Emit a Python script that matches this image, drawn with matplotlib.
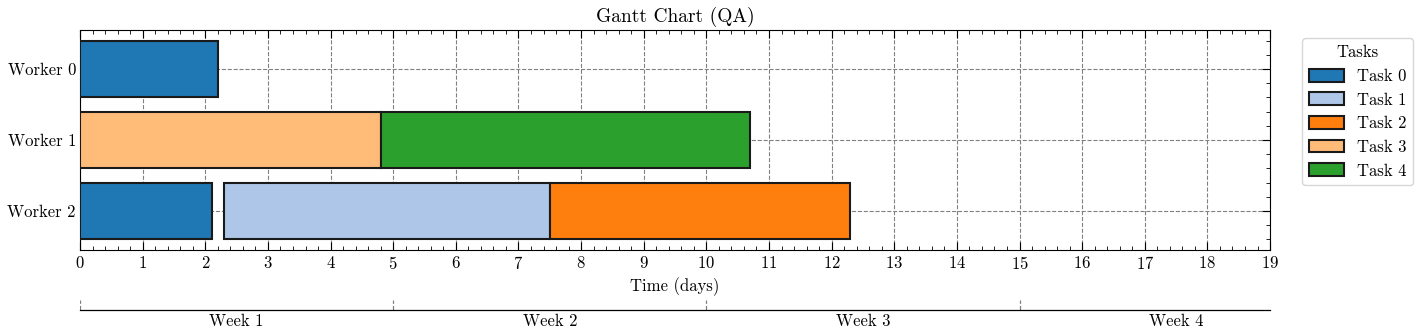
import numpy as np
import matplotlib.pyplot as plt
from matplotlib.patches import Patch

plt.rcParams['font.family'] = ['cmr10', 'DejaVu Serif']
plt.rcParams['mathtext.fontset'] = 'cm'
plt.rcParams['axes.formatter.use_mathtext'] = True
plt.rcParams['font.size'] = 12

workers = ['Worker 0', 'Worker 1', 'Worker 2']
tasks = ['Task 0', 'Task 1', 'Task 2', 'Task 3', 'Task 4']
task_colors = ['#1f77b4', '#aec7e8', '#ff7f0e', '#ffbb78', '#2ca02c']

# one entry per bar: worker index, task index, start, end
bar_worker = [0, 1, 1, 2, 2, 2]
bar_task = [0, 3, 4, 0, 1, 2]
bar_start = [0.0, 0.0, 4.8, 0.0, 2.3, 7.5]
bar_end = [2.2, 4.8, 10.7, 2.1, 7.5, 12.3]

weeks = ['Week 1', 'Week 2', 'Week 3', 'Week 4']
week_starts = [0, 5, 10, 15]
week_centers = [2.5, 7.5, 12.5, 17.5]

fig = plt.figure(figsize=(14.17, 3.35), dpi=100)
ax = fig.add_axes([0.0565, 0.2537, 0.8398, 0.6567])

for w, t, s, e in zip(bar_worker, bar_task, bar_start, bar_end):
    ax.barh(w, e - s, left=s, height=0.8, color=task_colors[t],
            edgecolor='#1a1a1a', linewidth=1.5, zorder=3)

ax.set_xlim(0, 19)
ax.set_ylim(2.55, -0.55)
ax.set_xticks(np.arange(0, 20, 1))
ax.set_xticks(np.arange(0, 19.01, 0.2), minor=True)
ax.set_yticks([0, 1, 2])
ax.set_yticklabels(workers)
ax.set_yticks(np.arange(-0.4, 2.5, 0.2), minor=True)
ax.tick_params(which='both', direction='in', top=True, right=True)
ax.tick_params(which='major', length=6, width=0.8)
ax.tick_params(which='minor', length=3, width=0.6)
ax.tick_params(axis='y', which='minor', left=False)
ax.tick_params(axis='y', which='major', left=False, pad=3)
ax.grid(True, which='major', linestyle='--', color='gray', linewidth=0.8, zorder=0)
ax.set_axisbelow(True)
ax.set_xlabel('Time (days)', fontsize=12)
ax.set_title('Gantt Chart (QA)', fontsize=14, pad=6)

handles = [Patch(facecolor=c, edgecolor='#1a1a1a', linewidth=1.5, label=l)
           for c, l in zip(task_colors, tasks)]
ax.legend(handles=handles, title='Tasks', loc='upper left',
          bbox_to_anchor=(1.02, 1.0), fontsize=12, title_fontsize=12,
          frameon=True, fancybox=True, edgecolor='#cccccc',
          handlelength=2.1, handleheight=0.8, handletextpad=0.8,
          labelspacing=0.5)

# week axis below
wax = fig.add_axes([0.0565, 0.0746, 0.8398, 0.03])
wax.set_xlim(0, 19)
wax.set_ylim(0, 1)
for side in ['top', 'left', 'right']:
    wax.spines[side].set_visible(False)
wax.spines['bottom'].set_linewidth(0.9)
wax.vlines(week_starts, 0, 1, colors='gray', linestyles='--', linewidth=0.9)
wax.set_yticks([])
wax.set_xticks(week_centers)
wax.set_xticklabels(weeks)
wax.tick_params(axis='x', length=0, pad=3, labelsize=12)

fig.savefig('out.png', dpi=100)
